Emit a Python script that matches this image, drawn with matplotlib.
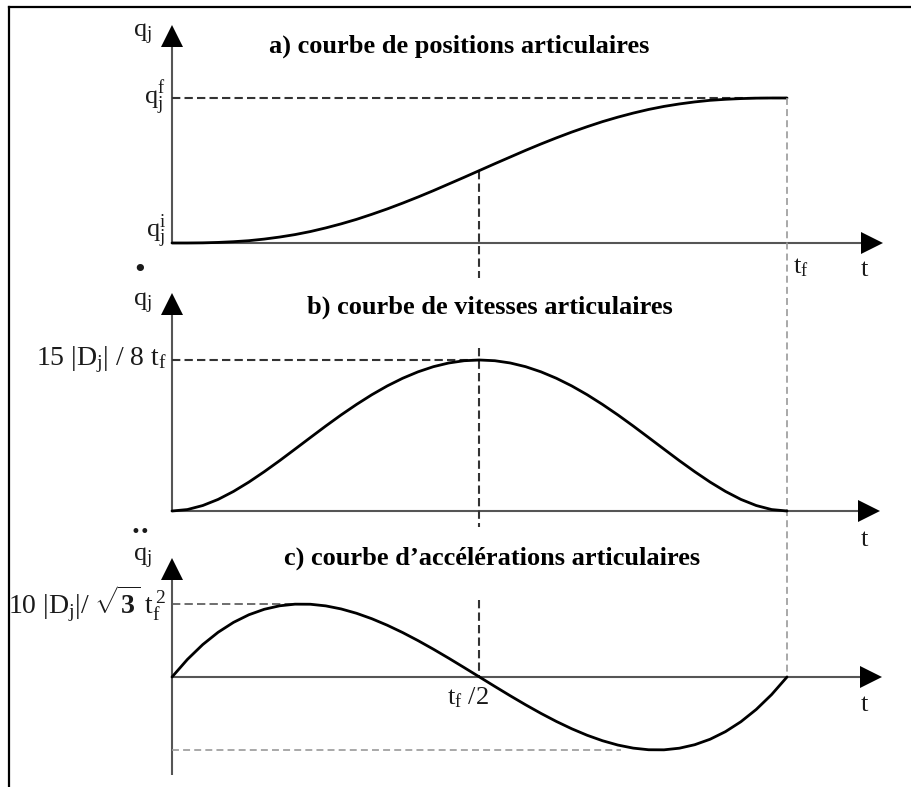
import matplotlib
matplotlib.use("Agg")
import matplotlib.pyplot as plt
from matplotlib.lines import Line2D

plt.rcParams["font.family"] = ["Liberation Serif", "DejaVu Serif"]
plt.rcParams["mathtext.fontset"] = "custom"
plt.rcParams["mathtext.rm"] = "Liberation Serif"
plt.rcParams["mathtext.it"] = "Liberation Serif"
plt.rcParams["mathtext.bf"] = "Liberation Serif:bold"
plt.rcParams["mathtext.default"] = "regular"
plt.rcParams["lines.scale_dashes"] = False

# ---------------------------------------------------------------- data
# normalised time t / t_f
t_norm = [0.000, 0.025, 0.050, 0.075, 0.100, 0.125, 0.150, 0.175, 0.200, 0.225,
          0.250, 0.275, 0.300, 0.325, 0.350, 0.375, 0.400, 0.425, 0.450, 0.475,
          0.500, 0.525, 0.550, 0.575, 0.600, 0.625, 0.650, 0.675, 0.700, 0.725,
          0.750, 0.775, 0.800, 0.825, 0.850, 0.875, 0.900, 0.925, 0.950, 0.975,
          1.000]
# joint position, (q - q_i) / (q_f - q_i)
position = [0.000, 0.000, 0.001, 0.004, 0.009, 0.016, 0.027, 0.041, 0.058, 0.079,
            0.104, 0.132, 0.163, 0.198, 0.235, 0.275, 0.317, 0.361, 0.407, 0.453,
            0.500, 0.547, 0.593, 0.639, 0.683, 0.725, 0.765, 0.802, 0.837, 0.868,
            0.896, 0.921, 0.942, 0.959, 0.973, 0.984, 0.991, 0.996, 0.999, 1.000,
            1.000]
# joint velocity, in |D_j| / t_f
velocity = [0.000, 0.018, 0.068, 0.144, 0.243, 0.359, 0.488, 0.625, 0.768, 0.912,
            1.055, 1.193, 1.323, 1.444, 1.553, 1.648, 1.728, 1.792, 1.838, 1.866,
            1.875, 1.866, 1.838, 1.792, 1.728, 1.648, 1.553, 1.444, 1.323, 1.193,
            1.055, 0.912, 0.768, 0.625, 0.488, 0.359, 0.243, 0.144, 0.068, 0.018,
            0.000]
# joint acceleration, in |D_j| / t_f^2
acceleration = [0.000, 1.389, 2.565, 3.538, 4.320, 4.922, 5.355, 5.631, 5.760, 5.754,
                5.625, 5.383, 5.040, 4.607, 4.095, 3.516, 2.880, 2.199, 1.485, 0.748,
                0.000, -0.748, -1.485, -2.199, -2.880, -3.516, -4.095, -4.607, -5.040,
                -5.383, -5.625, -5.754, -5.760, -5.631, -5.355, -4.922, -4.320, -3.538,
                -2.565, -1.389, 0.000]

v_max = 15 / 8            # 15 |D_j| / 8 t_f
a_max = 10 / 3 ** 0.5     # 10 |D_j| / sqrt(3) t_f^2

titles = ["a) courbe de positions articulaires",
          "b) courbe de vitesses articulaires",
          "c) courbe d\u2019accélérations articulaires"]

# ---------------------------------------------------------------- layout
W, H = 912, 787
X0, X1 = 172, 787                 # pixel columns of t = 0 and t = t_f
SX = X1 - X0
fig = plt.figure(figsize=(W / 100, H / 100), dpi=100)
fig.patch.set_facecolor("white")

AXIS_C = "#555555"
DASH_DARK = "#333333"
DASH_GREY = "#9a9a9a"
TXT_C = "#1a1a1a"
LBL = 19
VAL = 20
TTL = 19


def make_panel(y0_px, px_per_unit):
    """Full-figure transparent axes with t/t_f on x and a panel value on y."""
    ax = fig.add_axes([0, 0, 1, 1])
    ax.set_axis_off()
    ax.patch.set_alpha(0)
    ax.set_xlim(-X0 / SX, (W - X0) / SX)
    ax.set_ylim((y0_px - H) / px_per_unit, y0_px / px_per_unit)
    ax.y0_px = y0_px
    ax.scale = px_per_unit
    return ax


def py(ax, pix):
    """Pixel row -> data value for a panel."""
    return (ax.y0_px - pix) / ax.scale


def px(pix):
    return (pix - X0) / SX


def draw_axes(ax, y_tip_px, x_tip_px, y_bottom_px=None):
    y_bot = 0 if y_bottom_px is None else py(ax, y_bottom_px)
    ax.plot([0, 0], [y_bot, py(ax, y_tip_px + 12)], color=AXIS_C, lw=1.5,
            solid_capstyle="butt")
    ax.plot([0, px(x_tip_px - 12)], [0, 0], color=AXIS_C, lw=1.5,
            solid_capstyle="butt")
    # arrow heads
    ax.plot([0], [py(ax, y_tip_px + 11)], marker="^", ms=16, mew=0,
            color="black", clip_on=False)
    ax.plot([px(x_tip_px - 11)], [0], marker=">", ms=16, mew=0,
            color="black", clip_on=False)


def ftext(xp, yp, s, **kw):
    kw.setdefault("color", TXT_C)
    fig.text(xp / W, 1 - yp / H, s, **kw)


curve_kw = dict(color="black", lw=2.0, solid_capstyle="round",
                solid_joinstyle="round")
dark_kw = dict(color=DASH_DARK, lw=1.5, linestyle=(0, (6, 3)))
grey_kw = dict(color=DASH_GREY, lw=1.2, linestyle=(0, (5, 3)))

# ---------------------------------------------------------------- a) position
ax_a = make_panel(243, 145)
draw_axes(ax_a, 25, 883)
ax_a.plot([0, t_norm[-1]], [position[-1], position[-1]], **dark_kw)
ax_a.plot([0.5, 0.5], [position[20], py(ax_a, 278)], **dark_kw)
ax_a.plot(t_norm, position, **curve_kw)

# ---------------------------------------------------------------- b) velocity
ax_b = make_panel(511, 151 / v_max)
draw_axes(ax_b, 293, 880)
ax_b.plot([0, 0.5], [v_max, v_max], **dark_kw)
ax_b.plot([0.5, 0.5], [py(ax_b, 348), py(ax_b, 527)], **dark_kw)
ax_b.plot(t_norm, velocity, **curve_kw)

# ---------------------------------------------------------------- c) acceleration
ax_c = make_panel(677, 73 / a_max)
draw_axes(ax_c, 558, 882, y_bottom_px=775)
ax_c.plot([0, 0.21], [a_max, a_max], color="#555555", lw=1.2,
          linestyle=(0, (6, 3)))
ax_c.plot([0, 0.73], [-a_max, -a_max], **grey_kw)
ax_c.plot([0.5, 0.5], [py(ax_c, 600), 0], **dark_kw)
ax_c.plot(t_norm, acceleration, **curve_kw)

# t = t_f marker running through all three panels
ax_a.plot([1, 1], [1, py(ax_a, 677)], **grey_kw)

# ---------------------------------------------------------------- labels
ftext(459, 46, titles[0], ha="center", va="center", fontsize=TTL,
      fontweight="bold", color="black")
ftext(490, 307, titles[1], ha="center", va="center", fontsize=TTL,
      fontweight="bold", color="black")
ftext(492, 558, titles[2], ha="center", va="center", fontsize=TTL,
      fontweight="bold", color="black")

ftext(152, 34, r"$q_j$", ha="right", va="center", fontsize=LBL)
ax_a.text(-0.01, 1.0, r"$q_j^f$", ha="right", va="center", fontsize=LBL,
          color=TXT_C)
ax_a.text(-0.01, 0.08, r"$q_j^i$", ha="right", va="center", fontsize=LBL,
          color=TXT_C)
ftext(793, 268, r"$t_f$", ha="left", va="center", fontsize=LBL)
ftext(864, 270, "t", ha="center", va="center", fontsize=LBL)

# velocity axis: q with a single time-derivative dot
ftext(152, 303, r"$q_j$", ha="right", va="center", fontsize=LBL)
ftext(140, 270, "\u2022", ha="center", va="center", fontsize=18,
      family="DejaVu Sans")
ax_b.text(-0.008, v_max, r"15 |D$_j$| / 8 t$_f$", ha="right", va="center",
          fontsize=VAL, color=TXT_C)
ftext(864, 540, "t", ha="center", va="center", fontsize=LBL)

# acceleration axis: q with a double dot
ftext(152, 558, r"$q_j$", ha="right", va="center", fontsize=LBL)
ftext(140, 532, "\u2022\u2022", ha="center", va="center", fontsize=12,
      family="DejaVu Sans")
ax_c.text(-0.01, a_max, r"10 |D$_j$|/ $\sqrt{\mathbf{3}}$ t$_f^{\,2}$",
          ha="right", va="center", fontsize=VAL, color=TXT_C)
ftext(447, 698, r"$t_f$ /2", ha="left", va="center", fontsize=LBL)
ftext(864, 705, "t", ha="center", va="center", fontsize=LBL)

# outer frame (top and left edges)
fig.add_artist(Line2D([9 / W, 1], [1 - 7 / H, 1 - 7 / H], color="black",
                      lw=1.6, transform=fig.transFigure))
fig.add_artist(Line2D([9 / W, 9 / W], [0, 1 - 7 / H], color="black",
                      lw=1.6, transform=fig.transFigure))

fig.savefig("out.png", dpi=100, facecolor="white")
